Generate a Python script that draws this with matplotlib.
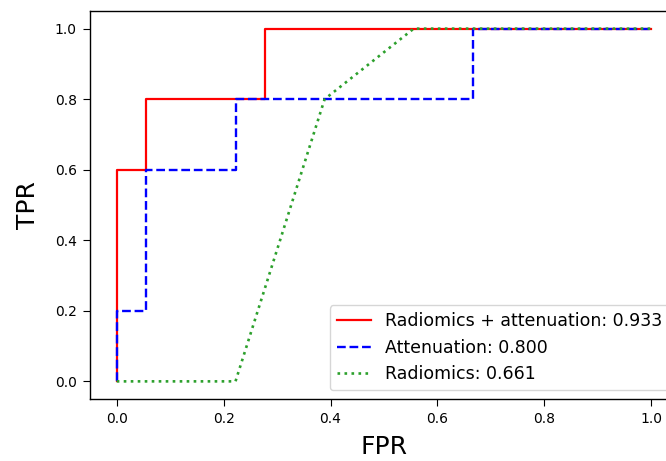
import matplotlib
matplotlib.use("Agg")
import matplotlib.pyplot as plt

# ROC points
fpr_combined = [0.0, 0.0, 0.0556, 0.0556, 0.2778, 0.2778, 1.0]
tpr_combined = [0.0, 0.6, 0.6, 0.8, 0.8, 1.0, 1.0]

fpr_atten = [0.0, 0.0, 0.0556, 0.0556, 0.2222, 0.2222, 0.6667, 0.6667, 1.0]
tpr_atten = [0.0, 0.2, 0.2, 0.6, 0.6, 0.8, 0.8, 1.0, 1.0]

fpr_radio = [0.0, 0.2222, 0.3889, 0.5556, 1.0]
tpr_radio = [0.0, 0.0, 0.8, 1.0, 1.0]

labels = ["Radiomics + attenuation: 0.933", "Attenuation: 0.800", "Radiomics: 0.661"]

fig = plt.figure(figsize=(6.66, 4.61), dpi=100)
# axes deliberately runs past the right edge, like the cropped reference
ax = fig.add_axes([90 / 666, 62 / 461, 588 / 666, 388 / 461])

ax.plot(fpr_combined, tpr_combined, color="red", linestyle="-", linewidth=1.6, label=labels[0])
ax.plot(fpr_atten, tpr_atten, color="blue", linestyle="--", linewidth=1.7, label=labels[1])
ax.plot(fpr_radio, tpr_radio, color="#2ca02c", linestyle=":", linewidth=1.9, label=labels[2])

for s in ax.spines.values():
    s.set_linewidth(1.0)

ax.set_xlabel("FPR", fontsize=18, labelpad=6)
ax.set_ylabel("TPR", fontsize=18, labelpad=11)
ax.tick_params(labelsize=10, length=5, pad=4.5)
ax.legend(loc="lower right", fontsize=12.5)

fig.savefig("out.png", dpi=100)
